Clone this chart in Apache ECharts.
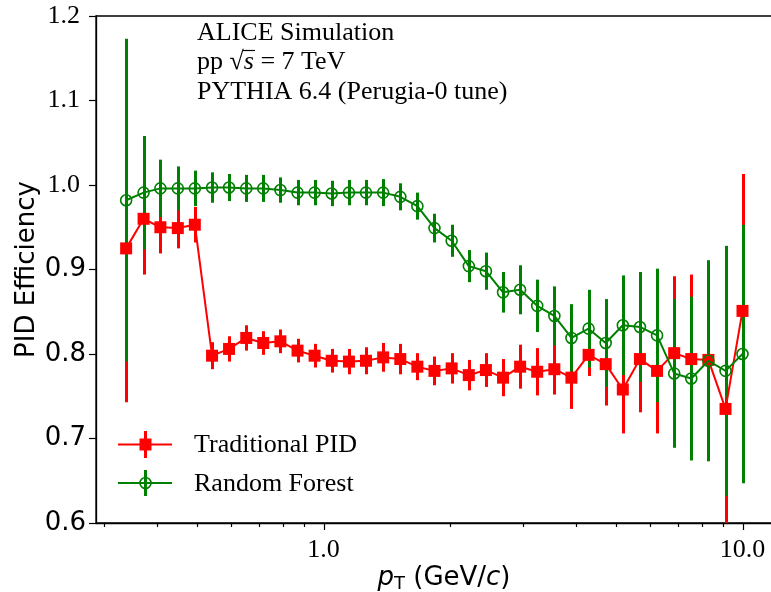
<!DOCTYPE html>
<html>
<head>
<meta charset="utf-8">
<script src="https://cdn.jsdelivr.net/npm/echarts@6/dist/echarts.min.js"></script>
<style>
html, body { margin: 0; padding: 0; background: #fff; }
#chart { width: 771px; height: 592px; }
</style>
</head>
<body>
<div id="chart"></div>
<script>
// pT bin centres (GeV/c)
var pT = [0.338, 0.372, 0.408, 0.449, 0.493, 0.542, 0.595, 0.654, 0.718, 0.789,
          0.867, 0.952, 1.046, 1.150, 1.263, 1.388, 1.525, 1.675, 1.840, 2.022,
          2.222, 2.441, 2.682, 2.946, 3.236, 3.556, 3.906, 4.292, 4.715, 5.180,
          5.691, 6.253, 6.870, 7.547, 8.292, 9.110, 10.0];

// Traditional PID
var tradEff = [0.925, 0.960, 0.950, 0.949, 0.953, 0.798, 0.806, 0.819, 0.813, 0.815,
               0.804, 0.798, 0.792, 0.791, 0.792, 0.796, 0.794, 0.785, 0.780, 0.783,
               0.775, 0.781, 0.772, 0.785, 0.779, 0.782, 0.772, 0.799, 0.788, 0.758,
               0.794, 0.780, 0.801, 0.794, 0.793, 0.735, 0.851];
var tradErr = [0.182, 0.066, 0.031, 0.024, 0.021, 0.016, 0.015, 0.015, 0.014, 0.014,
               0.014, 0.014, 0.014, 0.015, 0.016, 0.017, 0.018, 0.016, 0.017, 0.018,
               0.018, 0.020, 0.022, 0.026, 0.028, 0.030, 0.037, 0.025, 0.049, 0.052,
               0.063, 0.074, 0.091, 0.100, 0.110, 0.150, 0.162];

// Random Forest
var rfEff = [0.982, 0.991, 0.996, 0.996, 0.996, 0.997, 0.997, 0.996, 0.996, 0.994,
             0.991, 0.991, 0.990, 0.991, 0.991, 0.991, 0.986, 0.975, 0.949, 0.934,
             0.904, 0.898, 0.873, 0.876, 0.857, 0.845, 0.819, 0.830, 0.813, 0.834,
             0.832, 0.822, 0.777, 0.771, 0.792, 0.780, 0.800];
var rfErr = [0.191, 0.067, 0.034, 0.026, 0.021, 0.018, 0.016, 0.016, 0.016, 0.015,
             0.015, 0.015, 0.015, 0.015, 0.015, 0.016, 0.016, 0.016, 0.017, 0.019,
             0.019, 0.022, 0.024, 0.029, 0.031, 0.035, 0.040, 0.046, 0.052, 0.059,
             0.065, 0.079, 0.088, 0.097, 0.119, 0.148, 0.153];

var majorTicks = [1, 10];
var minorTicks = [0.3, 0.4, 0.5, 0.6, 0.7, 0.8, 0.9, 2, 3, 4, 5, 6, 7, 8, 9];

var RED = '#ff0000', GREEN = '#008000';
var SERIF = 'Liberation Serif', SANS = 'DejaVu Sans';
var FS = 26;

var chart = echarts.init(document.getElementById('chart'));

// vertical error bars as a custom series (snapped to whole pixels)
function errorBars(eff, err, color, zlevel) {
    return {
        type: 'custom',
        zlevel: zlevel,
        silent: true,
        clip: true,
        data: pT.map(function (x, i) { return [x, eff[i] - err[i], eff[i] + err[i]]; }),
        encode: { x: 0, y: [1, 2] },
        renderItem: function (params, api) {
            var a = api.coord([api.value(0), api.value(1)]);
            var b = api.coord([api.value(0), api.value(2)]);
            var x = Math.round(a[0]) + 0.5;
            return {
                type: 'line',
                shape: { x1: x, y1: a[1], x2: x, y2: b[1] },
                style: { stroke: color, lineWidth: 3 }
            };
        }
    };
}

// log-axis ticks (major + minor) drawn under the x axis
var tickData = majorTicks.map(function (v) { return [v, 0.6, 7]; })
    .concat(minorTicks.map(function (v) { return [v, 0.6, 4]; }));

var option = {
    animation: false,
    backgroundColor: '#fff',
    grid: {
        left: 96, right: -3, top: 16, bottom: 69,
        outerBoundsMode: 'none',
        containLabel: false,
        show: true, borderColor: '#000', borderWidth: 1.3, backgroundColor: 'transparent'
    },
    xAxis: {
        type: 'log',
        logBase: 10,
        min: 0.2864,
        max: 11.89,
        axisLine: { lineStyle: { color: '#000', width: 1.3 } },
        axisTick: { show: false },
        splitLine: { show: false },
        axisLabel: {
            margin: 14,
            color: '#000',
            fontFamily: SERIF,
            fontSize: FS,
            formatter: function (v) {
                var l = Math.log(v) / Math.LN10;
                return Math.abs(l - Math.round(l)) < 1e-6 ? v.toFixed(1) : '';
            }
        },
        name: '{i|p}{sub|T}{n| (GeV/}{i|c}{n|)}',
        nameLocation: 'middle',
        nameMoveOverlap: false,
        nameGap: 40,
        nameTextStyle: {
            padding: [0, 0, 0, 18],
            rich: {
                n: { fontFamily: SANS, fontSize: FS, color: '#000' },
                i: { fontFamily: SANS, fontSize: FS, fontStyle: 'italic', color: '#000' },
                sub: { fontFamily: SANS, fontSize: 18, color: '#000', padding: [12, 0, 0, 0] }
            }
        }
    },
    yAxis: {
        type: 'value',
        min: 0.6,
        max: 1.2,
        interval: 0.1,
        axisLine: { show: true, lineStyle: { color: '#000', width: 1.3 } },
        axisTick: { show: true, length: 7, lineStyle: { color: '#000', width: 1.2 } },
        splitLine: { show: false },
        axisLabel: {
            margin: 10,
            formatter: function (v) {
                return v >= 0.999 ? '{s|' + v.toFixed(1) + '}' : '{d|' + v.toFixed(1) + '}';
            },
            rich: {
                s: { fontFamily: SERIF, fontSize: FS, color: '#000', padding: [0, 6, 0, 0] },
                d: { fontFamily: SANS, fontSize: FS, color: '#000' }
            }
        },
        name: 'PID Efficiency',
        nameLocation: 'middle',
        nameMoveOverlap: false,
        nameGap: 56,
        nameTextStyle: { fontFamily: SANS, fontSize: FS, color: '#000' }
    },
    series: [
        errorBars(tradEff, tradErr, RED, 1),
        errorBars(rfEff, rfErr, GREEN, 2),
        {
            name: 'Traditional PID',
            type: 'line',
            zlevel: 3,
            z: 3,
            data: pT.map(function (x, i) { return [x, tradEff[i]]; }),
            symbol: 'rect',
            symbolSize: 12,
            itemStyle: { color: RED },
            lineStyle: { color: RED, width: 2 },
            emphasis: { disabled: true }
        },
        {
            name: 'Random Forest',
            type: 'line',
            zlevel: 3,
            z: 4,
            data: pT.map(function (x, i) { return [x, rfEff[i]]; }),
            symbol: 'circle',
            symbolSize: 11,
            itemStyle: { color: 'rgba(0,0,0,0)', borderColor: GREEN, borderWidth: 1.6 },
            lineStyle: { color: GREEN, width: 2 },
            emphasis: { disabled: true }
        },
        {
            type: 'custom',
            z: 5,
            silent: true,
            clip: false,
            data: tickData,
            encode: { x: 0, y: 1 },
            renderItem: function (params, api) {
                var p = api.coord([api.value(0), api.value(1)]);
                var x = Math.round(p[0]) + 0.5;
                return {
                    type: 'line',
                    shape: { x1: x, y1: p[1], x2: x, y2: p[1] + api.value(2) },
                    style: { stroke: '#000', lineWidth: 1.2 }
                };
            }
        }
    ],
    graphic: [
        { type: 'text', x: 197, y: 33, style: { text: 'ALICE Simulation', font: FS + 'px "Liberation Serif"', fill: '#000', verticalAlign: 'middle' } },
        { type: 'text', x: 197, y: 62, style: {
            text: '{n|pp }{n|√}{i|s}{n| = 7 TeV}',
            verticalAlign: 'middle',
            rich: {
                n: { fontFamily: SERIF, fontSize: FS, fill: '#000' },
                i: { fontFamily: SERIF, fontSize: FS, fontStyle: 'italic', fill: '#000' }
            }
        } },
        { type: 'line', shape: { x1: 243, y1: 50.5, x2: 255, y2: 50.5 }, style: { stroke: '#000', lineWidth: 1.2 } },
        { type: 'text', x: 197, y: 92, style: { text: 'PYTHIA 6.4 (Perugia-0 tune)', font: FS + 'px "Liberation Serif"', fill: '#000', verticalAlign: 'middle' } },

        // legend
        { type: 'line', shape: { x1: 118, y1: 444.5, x2: 172, y2: 444.5 }, style: { stroke: RED, lineWidth: 2 } },
        { type: 'line', shape: { x1: 145.5, y1: 431, x2: 145.5, y2: 458 }, style: { stroke: RED, lineWidth: 3 } },
        { type: 'rect', shape: { x: 139.5, y: 438.5, width: 12, height: 12 }, style: { fill: RED } },
        { type: 'text', x: 194, y: 445, style: { text: 'Traditional PID', font: FS + 'px "Liberation Serif"', fill: '#000', verticalAlign: 'middle' } },

        { type: 'line', shape: { x1: 118, y1: 483, x2: 172, y2: 483 }, style: { stroke: GREEN, lineWidth: 2 } },
        { type: 'line', shape: { x1: 145.5, y1: 470, x2: 145.5, y2: 496 }, style: { stroke: GREEN, lineWidth: 3 } },
        { type: 'circle', shape: { cx: 145.5, cy: 483, r: 5.5 }, style: { fill: 'none', stroke: GREEN, lineWidth: 1.6 } },
        { type: 'text', x: 194, y: 484, style: { text: 'Random Forest', font: FS + 'px "Liberation Serif"', fill: '#000', verticalAlign: 'middle' } }
    ]
};

chart.setOption(option);
</script>
</body>
</html>
